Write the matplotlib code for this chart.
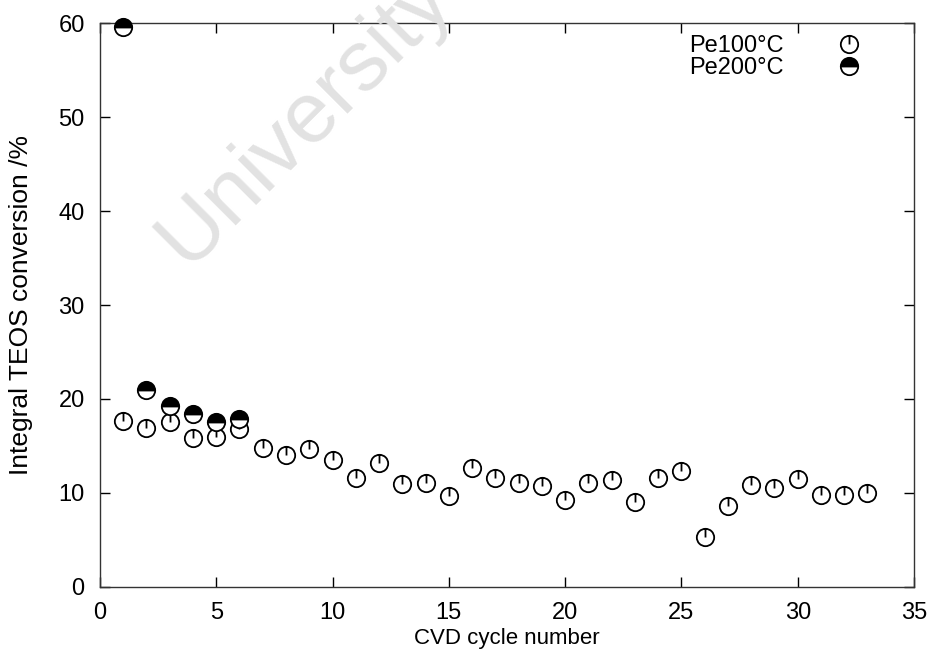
import numpy as np
import matplotlib.pyplot as plt
from matplotlib.path import Path

plt.rcParams['font.family'] = ['Liberation Sans', 'DejaVu Sans']

cycle_100 = np.arange(1, 34)
conv_100 = [17.6, 16.9, 17.5, 15.8, 16.0, 16.8, 14.75, 14.0, 14.7, 13.5,
            11.55, 13.2, 10.9, 11.0, 9.7, 12.6, 11.6, 11.1, 10.7, 9.2,
            11.1, 11.4, 9.0, 11.55, 12.3, 5.3, 8.6, 10.8, 10.5, 11.45,
            9.8, 9.8, 9.95]

cycle_200 = [1, 2, 3, 4, 5, 6]
conv_200 = [59.6, 21.0, 19.2, 18.4, 17.5, 17.9]

# open circle with a tick from the centre to the top
clock = Path.make_compound_path(
    Path.unit_circle(),
    Path([[0, 0], [0, 1]], [Path.MOVETO, Path.LINETO]))

fig = plt.figure(figsize=(9.34, 6.69), dpi=100)
ax = fig.add_axes([0.107, 0.123, 0.8716, 0.8419])

# scan watermark
fig.text(0.200, 0.599, "University", rotation=45, rotation_mode='anchor',
         fontsize=62, color='#e2e2e2', ha='left', va='baseline', zorder=0)

ax.plot(cycle_100, conv_100, linestyle='none', marker=clock, markersize=12.5,
        markerfacecolor='none', markeredgecolor='black', markeredgewidth=1.3,
        label='Pe100°C', zorder=3, clip_on=False)
ax.plot(cycle_200, conv_200, linestyle='none', marker='o', markersize=12.5,
        fillstyle='top', markerfacecolor='black', markerfacecoloralt='white',
        markeredgecolor='black', markeredgewidth=1.3, label='Pe200°C',
        zorder=4, clip_on=False)

ax.set_xlim(0, 35)
ax.set_ylim(0, 60)
ax.set_xticks(range(0, 36, 5))
ax.set_yticks(range(0, 61, 10))
ax.tick_params(direction='in', length=7, width=1, top=True, right=True,
               labelsize=17, pad=11)
for s in ax.spines.values():
    s.set_linewidth(1)
    s.set_color('#333333')

ax.set_xlabel('CVD cycle number', fontsize=16)
ax.set_ylabel('Integral TEOS conversion /%', fontsize=19)
ax.xaxis.set_label_coords(0.5, -0.073)
ax.yaxis.set_label_coords(-0.082, 0.5)

ax.legend(loc='upper right', bbox_to_anchor=(0.967, 1.004), frameon=False,
          markerfirst=False, fontsize=17, handletextpad=1.8,
          labelspacing=0.0, borderaxespad=0.2)

fig.savefig('out.png', dpi=100)
